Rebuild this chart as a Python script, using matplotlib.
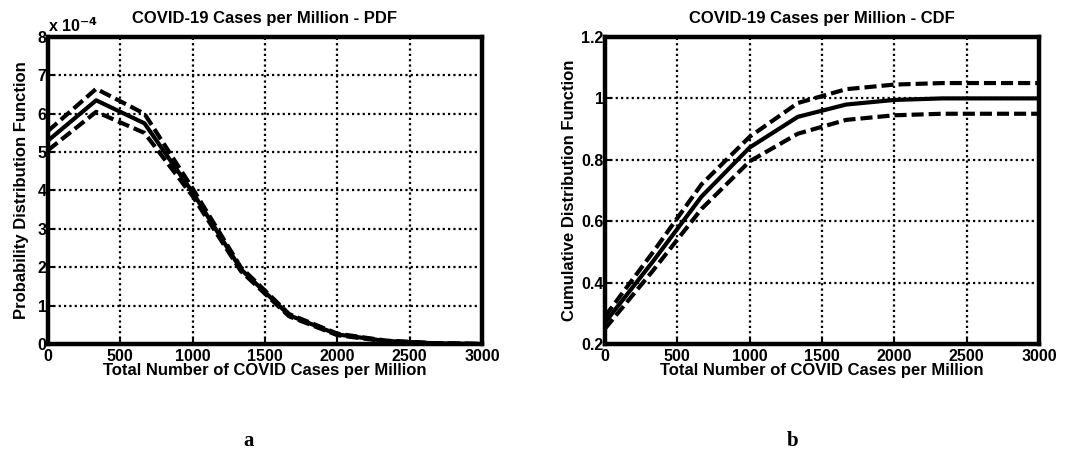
import matplotlib
matplotlib.use("Agg")
import matplotlib.pyplot as plt
import numpy as np

x = [0, 333, 667, 1000, 1333, 1667, 2000, 2333, 2667, 3000]
pdf_mid = [5.3, 6.35, 5.75, 3.95, 1.95, 0.75, 0.25, 0.08, 0.02, 0.0]
pdf_up = [5.55, 6.65, 6.0, 4.05, 2.0, 0.78, 0.27, 0.09, 0.02, 0.0]
pdf_lo = [5.05, 6.05, 5.5, 3.85, 1.9, 0.72, 0.23, 0.07, 0.02, 0.0]

cdf_mid = [0.27, 0.47, 0.68, 0.84, 0.94, 0.98, 0.995, 1.0, 1.0, 1.0]
cdf_up = [0.29, 0.50, 0.72, 0.875, 0.985, 1.03, 1.045, 1.05, 1.05, 1.05]
cdf_lo = [0.25, 0.44, 0.64, 0.795, 0.885, 0.93, 0.945, 0.95, 0.95, 0.95]

xticks = [0, 500, 1000, 1500, 2000, 2500, 3000]
pdf_yticks = [0, 1, 2, 3, 4, 5, 6, 7, 8]
cdf_yticks = [0.2, 0.4, 0.6, 0.8, 1.0, 1.2]
cdf_ylabels = ["0.2", "0.4", "0.6", "0.8", "1", "1.2"]

plt.rcParams['font.family'] = ['Liberation Sans', 'DejaVu Sans']
plt.rcParams['font.weight'] = 'bold'

FS = 11.5
FL = 12
fig = plt.figure(figsize=(10.66, 4.55), dpi=100)
W, H = 1066, 455
ax1 = fig.add_axes([48 / W, 1 - 344 / H, 434 / W, 307 / H])
ax2 = fig.add_axes([605 / W, 1 - 344 / H, 434 / W, 307 / H])


def style(ax):
    for s in ax.spines.values():
        s.set_linewidth(3.2)
    ax.grid(True, color='black', linestyle=(0, (1, 1.4)), linewidth=1.6)
    ax.tick_params(direction='in', length=4, width=1.5, labelsize=FS)
    ax.tick_params(axis='x', pad=3.5)
    ax.tick_params(axis='y', pad=1)
    ax.set_xlim(0, 3000)
    ax.set_xticks(xticks)
    ax.set_xticklabels([str(t) for t in xticks], fontweight='bold')
    ax.xaxis.set_label_coords(0.5, -0.062)


dash = (0, (2.9, 1.2))
LW = 3.0
ax1.plot(x, pdf_up, color='black', lw=LW, linestyle=dash)
ax1.plot(x, pdf_mid, color='black', lw=LW)
ax1.plot(x, pdf_lo, color='black', lw=LW, linestyle=dash)
ax1.set_ylim(0, 8)
ax1.set_yticks(pdf_yticks)
ax1.set_yticklabels([str(t) for t in pdf_yticks], fontweight='bold')
style(ax1)
ax1.set_title("COVID-19 Cases per Million - PDF", fontsize=FL, fontweight='bold', pad=10)
ax1.set_xlabel("Total Number of COVID Cases per Million", fontsize=FL, fontweight='bold')
ax1.set_ylabel("Probability Distribution Function", fontsize=FL, fontweight='bold', labelpad=6)
ax1.text(0.0, 1.005, r"x 10$^{\mathbf{-4}}$", transform=ax1.transAxes, fontsize=FS,
         fontweight='bold', ha='left', va='bottom')

ax2.plot(x, cdf_up, color='black', lw=LW, linestyle=dash)
ax2.plot(x, cdf_mid, color='black', lw=LW)
ax2.plot(x, cdf_lo, color='black', lw=LW, linestyle=dash)
ax2.set_ylim(0.2, 1.2)
ax2.set_yticks(cdf_yticks)
ax2.set_yticklabels(cdf_ylabels, fontweight='bold')
style(ax2)
ax2.set_title("COVID-19 Cases per Million - CDF", fontsize=FL, fontweight='bold', pad=10)
ax2.set_xlabel("Total Number of COVID Cases per Million", fontsize=FL, fontweight='bold')
ax2.set_ylabel("Cumulative Distribution Function", fontsize=FL, fontweight='bold', labelpad=3)

fig.text(249 / W, 1 - 441 / H, "a", family='Liberation Serif', fontsize=15, fontweight='bold',
         ha='center', va='center')
fig.text(793 / W, 1 - 441 / H, "b", family='Liberation Serif', fontsize=15, fontweight='bold',
         ha='center', va='center')

fig.savefig("out.png", dpi=100)
